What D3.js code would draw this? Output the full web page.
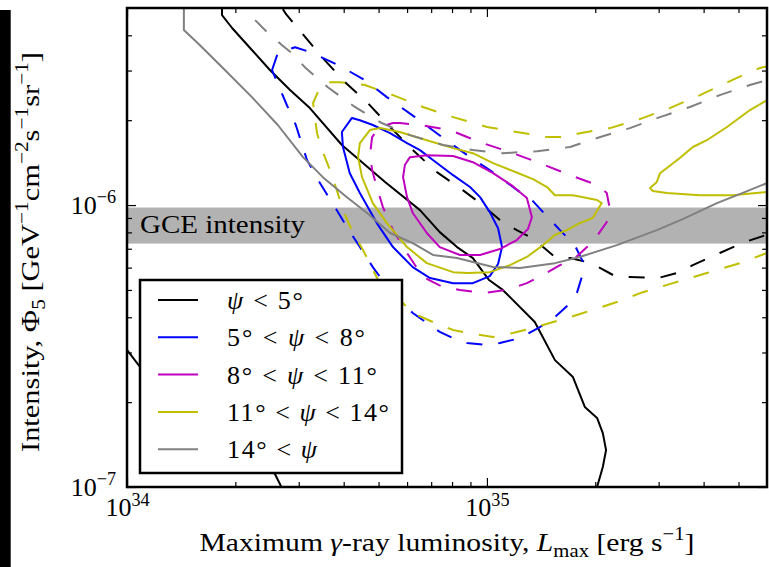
<!DOCTYPE html>
<html>
<head>
<meta charset="utf-8">
<script src="https://cdnjs.cloudflare.com/ajax/libs/d3/7.8.5/d3.min.js"></script>
<style>
body { margin: 0; background: #fff; }
text { font-family: "Liberation Serif", serif; font-size: 26px; fill: #000; }
</style>
</head>
<body>
<script>
//Global layout variables
var W = 769;
var H = 567;
var Left = 127;
var Top = 8;
var Right = 767;
var Bottom = 487;
var FontSize = 26;
var LineWidth = 2;
var Dash = "16,16";

//Axis domains and ticks
var xDomain = [1e34, 6e35];
var yDomain = [1e-7, 5e-6];
var xMajor = [1e34, 1e35];
var xMinor = [2e34, 3e34, 4e34, 5e34, 6e34, 7e34, 8e34, 9e34, 2e35, 3e35, 4e35, 5e35];
var yMajor = [1e-7, 1e-6];
var yMinor = [2e-7, 3e-7, 4e-7, 5e-7, 6e-7, 7e-7, 8e-7, 9e-7, 2e-6, 3e-6, 4e-6];
var xTickExp = ["34", "35"];
var yTickExp = ["\u22127", "\u22126"];

//GCE band (intensity range)
var gceBand = [0.73e-6, 0.98e-6];

//Legend
var seriesLabels = [
  [["\u03c8", "i"], [" < 5\u00b0", ""]],
  [["5\u00b0 < ", ""], ["\u03c8", "i"], [" < 8\u00b0", ""]],
  [["8\u00b0 < ", ""], ["\u03c8", "i"], [" < 11\u00b0", ""]],
  [["11\u00b0 < ", ""], ["\u03c8", "i"], [" < 14\u00b0", ""]],
  [["14\u00b0 < ", ""], ["\u03c8", "i"]]
];
var seriesColors = ["#000000", "#0000ff", "#bf00bf", "#bfbf00", "#808080"];

//Contours: [log10 Lmax, log10 Phi5]
var psi0Solid = [[34.264,-5.29],[34.264,-5.326],[34.292,-5.372],[34.342,-5.443],[34.397,-5.521],
  [34.453,-5.592],[34.508,-5.656],[34.597,-5.787],[34.717,-5.918],[34.814,-6.018],[34.869,-6.096],
  [34.917,-6.149],[34.961,-6.188],[35.006,-6.266],[35.044,-6.301],[35.133,-6.415],[35.189,-6.550],
  [35.239,-6.610],[35.272,-6.716],[35.306,-6.755],[35.322,-6.809],[35.331,-6.869],[35.322,-6.929],
  [35.306,-7.0],[35.297,-7.03]];
var psi0SolidLow = [[33.99,-6.50],[34.0,-6.514],[34.036,-6.574],[34.411,-6.954],[34.433,-7.01]];
var psi0Dashed = [[34.433,-5.305],[34.442,-5.323],[34.486,-5.390],[34.544,-5.479],[34.606,-5.564],
  [34.669,-5.638],[34.731,-5.723],[34.794,-5.805],[34.861,-5.883],[34.933,-5.947],[34.981,-5.993],
  [35.036,-6.053],[35.083,-6.089],[35.119,-6.113],[35.156,-6.149],[35.189,-6.184],[35.231,-6.188],
  [35.278,-6.202],[35.314,-6.223],[35.356,-6.252],[35.397,-6.255],[35.475,-6.259],[35.528,-6.241],
  [35.572,-6.213],[35.647,-6.170],[35.717,-6.131],[35.792,-6.099]];

var psi1Solid = [[34.625,-5.691],[34.597,-5.741],[34.600,-5.794],[34.619,-5.887],[34.647,-5.957],
  [34.694,-6.064],[34.739,-6.149],[34.794,-6.220],[34.842,-6.259],[34.906,-6.277],[34.961,-6.277],
  [35.008,-6.252],[35.031,-6.209],[35.042,-6.149],[35.031,-6.082],[35.008,-6.025],[34.981,-5.972],
  [34.953,-5.936],[34.906,-5.894],[34.850,-5.840],[34.814,-5.805],[34.778,-5.780],[34.731,-5.745],
  [34.683,-5.716],[34.647,-5.699]];
var psi1Dashed = [[34.403,-5.521],[34.419,-5.461],[34.467,-5.440],[34.508,-5.457],[34.592,-5.507],
  [34.661,-5.557],[34.722,-5.617],[34.800,-5.688],[34.875,-5.759],[34.953,-5.830],[35.008,-5.876],
  [35.092,-5.954],[35.125,-5.982],[35.156,-6.025],[35.203,-6.089],[35.244,-6.142],[35.267,-6.202],
  [35.267,-6.241],[35.250,-6.312],[35.225,-6.355],[35.189,-6.397],[35.147,-6.433],[35.092,-6.472],
  [35.036,-6.489],[35.0,-6.496],[34.944,-6.489],[34.906,-6.472],[34.869,-6.450],[34.794,-6.383],
  [34.753,-6.337],[34.703,-6.255],[34.683,-6.220],[34.647,-6.149],[34.611,-6.078],[34.583,-6.018],
  [34.536,-5.922],[34.500,-5.840],[34.469,-5.716],[34.444,-5.645],[34.417,-5.564]];

var psi2Solid = [[34.786,-5.830],[34.833,-5.823],[34.906,-5.826],[34.961,-5.848],[35.017,-5.887],
  [35.072,-5.933],[35.111,-5.975],[35.125,-6.043],[35.114,-6.085],[35.083,-6.124],[35.036,-6.156],
  [34.981,-6.177],[34.925,-6.177],[34.869,-6.149],[34.833,-6.099],[34.794,-6.028],[34.778,-5.972],
  [34.767,-5.901],[34.772,-5.858]];
var psi2Dashed = [[34.739,-5.709],[34.758,-5.709],[34.814,-5.716],[34.897,-5.734],[34.981,-5.777],
  [35.064,-5.812],[35.147,-5.851],[35.231,-5.894],[35.306,-5.929],[35.333,-5.957],[35.342,-6.018],
  [35.333,-6.060],[35.308,-6.106],[35.278,-6.149],[35.239,-6.195],[35.203,-6.213],[35.156,-6.248],
  [35.111,-6.277],[35.056,-6.301],[34.989,-6.312],[34.925,-6.301],[34.878,-6.291],[34.822,-6.255],
  [34.778,-6.170],[34.739,-6.089],[34.711,-6.007],[34.694,-5.936],[34.681,-5.876],[34.675,-5.823],
  [34.681,-5.759],[34.703,-5.723]];

var psi3Solid = [[34.675,-5.734],[34.703,-5.727],[34.758,-5.741],[34.833,-5.770],[34.906,-5.798],
  [34.961,-5.816],[35.017,-5.851],[35.072,-5.879],[35.128,-5.908],[35.167,-5.936],[35.189,-5.965],
  [35.239,-5.965],[35.306,-5.982],[35.319,-5.993],[35.294,-6.046],[35.258,-6.064],[35.222,-6.089],
  [35.189,-6.106],[35.156,-6.142],[35.111,-6.184],[35.064,-6.213],[35.008,-6.238],[34.944,-6.241],
  [34.906,-6.238],[34.833,-6.206],[34.778,-6.149],[34.722,-6.064],[34.683,-5.993],[34.653,-5.901],
  [34.642,-5.830],[34.647,-5.780]];
var psi3SolidRight = [[35.792,-5.621],[35.778,-5.628],[35.731,-5.663],[35.667,-5.723],[35.611,-5.770],
  [35.572,-5.794],[35.536,-5.833],[35.481,-5.887],[35.472,-5.918],[35.453,-5.940],[35.461,-5.950],
  [35.500,-5.957],[35.592,-5.965],[35.683,-5.965],[35.778,-5.954],[35.792,-5.954]];
var psi3Dashed = [[35.792,-5.504],[35.758,-5.514],[35.711,-5.539],[35.639,-5.582],[35.592,-5.610],
  [35.508,-5.656],[35.425,-5.695],[35.342,-5.727],[35.258,-5.745],[35.217,-5.759],[35.169,-5.759],
  [35.083,-5.741],[35.0,-5.723],[34.906,-5.688],[34.822,-5.652],[34.739,-5.610],[34.661,-5.574],
  [34.592,-5.564],[34.558,-5.564],[34.536,-5.582],[34.517,-5.638],[34.522,-5.688],[34.528,-5.745],
  [34.542,-5.805],[34.564,-5.876],[34.583,-5.947],[34.600,-6.018],[34.628,-6.099],[34.656,-6.160],
  [34.683,-6.230],[34.703,-6.277],[34.736,-6.319],[34.767,-6.348],[34.794,-6.383],[34.850,-6.415],
  [34.906,-6.443],[34.961,-6.457],[35.017,-6.468],[35.072,-6.454],[35.147,-6.429],[35.203,-6.408],
  [35.267,-6.383],[35.361,-6.344],[35.433,-6.309],[35.517,-6.277],[35.611,-6.241],[35.703,-6.206],
  [35.778,-6.170],[35.792,-6.163]];

var psi4Solid = [[34.158,-5.291],[34.158,-5.379],[34.197,-5.426],[34.272,-5.521],[34.347,-5.617],
  [34.419,-5.716],[34.489,-5.830],[34.544,-5.901],[34.611,-5.972],[34.667,-6.028],[34.731,-6.099],
  [34.794,-6.135],[34.850,-6.177],[34.917,-6.188],[34.961,-6.202],[35.017,-6.220],[35.092,-6.223],
  [35.189,-6.206],[35.258,-6.184],[35.361,-6.142],[35.472,-6.089],[35.544,-6.050],[35.639,-5.993],
  [35.711,-5.957],[35.778,-5.922],[35.792,-5.915]];
var psi4Dashed = [[34.356,-5.344],[34.392,-5.390],[34.431,-5.433],[34.458,-5.461],[34.494,-5.511],
  [34.558,-5.582],[34.633,-5.652],[34.708,-5.709],[34.786,-5.752],[34.878,-5.787],[34.961,-5.805],
  [35.044,-5.816],[35.139,-5.809],[35.231,-5.794],[35.306,-5.762],[35.397,-5.727],[35.481,-5.688],
  [35.564,-5.652],[35.647,-5.610],[35.731,-5.574],[35.778,-5.557],[35.792,-5.550]];

var xScale, yScale;

function main() {
  var svg = d3.select("body").append("svg")
    .attr("width", W)
    .attr("height", H);

  xScale = d3.scaleLog().domain(xDomain).range([Left, Right]);
  yScale = d3.scaleLog().domain(yDomain).range([Bottom, Top]);

  //black strip on the left edge of the picture
  svg.append("rect")
    .attr("x", 0).attr("y", 10)
    .attr("width", 10.7).attr("height", H - 10)
    .attr("fill", "#000");

  svg.append("clipPath").attr("id", "plot")
    .append("rect")
    .attr("x", Left).attr("y", Top)
    .attr("width", Right - Left).attr("height", Bottom - Top);

  //GCE band
  svg.append("rect")
    .attr("x", Left)
    .attr("y", yScale(gceBand[1]))
    .attr("width", Right - Left)
    .attr("height", yScale(gceBand[0]) - yScale(gceBand[1]))
    .attr("fill", "#b2b2b2");

  var curves = [
    { data: psi0Solid, c: 0, dash: false, closed: false },
    { data: psi0SolidLow, c: 0, dash: false, closed: false },
    { data: psi0Dashed, c: 0, dash: true, closed: false },
    { data: psi1Solid, c: 1, dash: false, closed: true },
    { data: psi1Dashed, c: 1, dash: true, closed: true },
    { data: psi2Solid, c: 2, dash: false, closed: true },
    { data: psi2Dashed, c: 2, dash: true, closed: true },
    { data: psi3Solid, c: 3, dash: false, closed: true },
    { data: psi3SolidRight, c: 3, dash: false, closed: false },
    { data: psi3Dashed, c: 3, dash: true, closed: false },
    { data: psi4Solid, c: 4, dash: false, closed: false },
    { data: psi4Dashed, c: 4, dash: true, closed: false }
  ];
  drawCurves(svg, curves);

  svg.append("text")
    .attr("x", Left + 13)
    .attr("y", 233)
    .attr("textLength", 165)
    .attr("lengthAdjust", "spacingAndGlyphs")
    .text("GCE intensity");

  drawAxes(svg);
  drawLabels(svg);
  drawLegend(svg);
}

function drawCurves(svg, curves) {
  var g = svg.append("g").attr("clip-path", "url(#plot)");
  curves.forEach(function(cv) {
    var line = d3.line()
      .x(function(d) { return xScale(Math.pow(10, d[0])); })
      .y(function(d) { return yScale(Math.pow(10, d[1])); })
      .curve(cv.closed ? d3.curveLinearClosed : d3.curveLinear);
    g.append("path")
      .attr("d", line(cv.data))
      .attr("fill", "none")
      .attr("stroke", seriesColors[cv.c])
      .attr("stroke-width", LineWidth)
      .attr("stroke-linejoin", "round")
      .attr("stroke-dasharray", cv.dash ? Dash : null);
  });
}

function richText(sel, parts) {
  //Appends text parts with italic / superscript / subscript
  var shift = 0;
  parts.forEach(function(p) {
    var want = 0;
    if (p[1] == "sup") want = -0.42 * FontSize;
    if (p[1] == "sub") want = 0.22 * FontSize;
    var ts = sel.append("tspan").text(p[0]);
    if (want - shift != 0) ts.attr("dy", want - shift);
    shift = want;
    if (p[1] == "sup" || p[1] == "sub") ts.attr("font-size", FontSize * 0.7);
    if (p[1] == "i") ts.attr("font-style", "italic");
  });
}

function axisStyle(g) {
  g.select(".domain").remove();
  g.selectAll(".tick line").attr("stroke", "#000").attr("stroke-width", 1.2);
}

function drawAxes(svg) {
  var sides = [
    { axis: d3.axisBottom(xScale), tr: "translate(0," + Bottom + ")", maj: xMajor, min: xMinor, lab: xTickExp },
    { axis: d3.axisTop(xScale), tr: "translate(0," + Top + ")", maj: xMajor, min: xMinor, lab: null },
    { axis: d3.axisLeft(yScale), tr: "translate(" + Left + ",0)", maj: yMajor, min: yMinor, lab: yTickExp },
    { axis: d3.axisRight(yScale), tr: "translate(" + Right + ",0)", maj: yMajor, min: yMinor, lab: null }
  ];
  sides.forEach(function(s) {
    var gMin = svg.append("g").attr("transform", s.tr)
      .call(s.axis.tickValues(s.min).tickSize(-5).tickFormat(""));
    axisStyle(gMin);
    var gMaj = svg.append("g").attr("transform", s.tr)
      .call(s.axis.tickValues(s.maj).tickSize(-9).tickPadding(11).tickFormat(""));
    axisStyle(gMaj);
    if (s.lab) {
      gMaj.attr("font-size", null).attr("font-family", null);
      gMaj.selectAll(".tick text").each(function(d, i) {
        var t = d3.select(this).attr("fill", "#000");
        richText(t, [["10", ""], [s.lab[i], "sup"]]);
      });
    }
  });

  svg.append("rect")
    .attr("x", Left).attr("y", Top)
    .attr("width", Right - Left).attr("height", Bottom - Top)
    .attr("fill", "none")
    .attr("stroke", "#000")
    .attr("stroke-width", 2.5);
}

function drawLabels(svg) {
  var xl = svg.append("text")
    .attr("x", (Left + Right) / 2)
    .attr("y", 551)
    .attr("text-anchor", "middle")
    .attr("textLength", 495)
    .attr("lengthAdjust", "spacingAndGlyphs");
  richText(xl, [["Maximum ", ""], ["\u03b3", "i"], ["-ray luminosity, ", ""], ["L", "i"],
    ["max", "sub"], [" [erg s", ""], ["\u22121", "sup"], ["]", ""]]);

  var yl = svg.append("text")
    .attr("transform", "translate(39," + 252 + ") rotate(-90)")
    .attr("text-anchor", "middle")
    .attr("textLength", 400)
    .attr("lengthAdjust", "spacingAndGlyphs");
  richText(yl, [["Intensity, \u03a6", ""], ["5", "sub"], [" [GeV", ""], ["\u22121", "sup"],
    ["cm", ""], ["\u22122", "sup"], ["s", ""], ["\u22121", "sup"], ["sr", ""], ["\u22121", "sup"], ["]", ""]]);
}

function drawLegend(svg) {
  var lx = 140, ly = 280, lw = 262, lh = 193;
  var textWidths = [76, 138, 150, 162, 90];
  var g = svg.append("g");
  g.append("rect")
    .attr("x", lx).attr("y", ly)
    .attr("width", lw).attr("height", lh)
    .attr("fill", "#fff")
    .attr("stroke", "#000")
    .attr("stroke-width", 2.5);
  seriesLabels.forEach(function(lab, i) {
    var yy = 300 + i * 37.3;
    g.append("line")
      .attr("x1", 158).attr("x2", 198)
      .attr("y1", yy).attr("y2", yy)
      .attr("stroke", seriesColors[i])
      .attr("stroke-width", LineWidth);
    var t = g.append("text")
      .attr("x", 227).attr("y", yy + 9)
      .attr("textLength", textWidths[i])
      .attr("lengthAdjust", "spacing");
    richText(t, lab);
  });
}

main();
</script>
</body>
</html>
